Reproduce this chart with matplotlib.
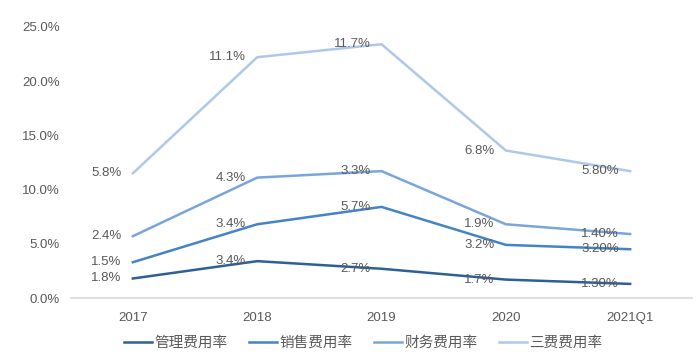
import matplotlib.pyplot as plt
import numpy as np

plt.rcParams['font.family'] = ['Liberation Sans', 'Noto Sans CJK SC', 'DejaVu Sans']

# categories and values (stacked line, labels show each series' own rate)
years = ['2017', '2018', '2019', '2020', '2021Q1']
names = ['管理费用率', '销售费用率', '财务费用率', '三费费用率']
guanli = [1.8, 3.4, 2.7, 1.7, 1.3]
xiaoshou = [1.5, 3.4, 5.7, 3.2, 3.2]
caiwu = [2.4, 4.3, 3.3, 1.9, 1.4]
sanfei = [5.8, 11.1, 11.7, 6.8, 5.8]
label_text = [
    ['1.8%', '3.4%', '2.7%', '1.7%', '1.30%'],
    ['1.5%', '3.4%', '5.7%', '3.2%', '3.20%'],
    ['2.4%', '4.3%', '3.3%', '1.9%', '1.40%'],
    ['5.8%', '11.1%', '11.7%', '6.8%', '5.80%'],
]
colors = ['#2F5F97', '#4483C4', '#79A5DB', '#AFC8E9']

fig = plt.figure(figsize=(7, 3.63), dpi=100)
ax = fig.add_axes([0.101, 0.179, 0.888, 0.747])

x = np.arange(len(years))
stack = np.cumsum(np.array([guanli, xiaoshou, caiwu, sanfei]), axis=0)
txt = '#595959'

for i in range(4):
    ax.plot(x, stack[i], color=colors[i], lw=1.8, label=names[i])
    for j in range(len(years)):
        ax.annotate(label_text[i][j], (x[j], stack[i][j]), xytext=(-8, 0),
                    textcoords='offset points', ha='right', va='center',
                    fontsize=9.5, color=txt)

ax.set_xlim(-0.5, len(years) - 0.5)
ax.set_ylim(0, 25)
ax.set_yticks(np.arange(0, 26, 5))
ax.set_yticklabels([f'{v:.1f}%' for v in np.arange(0, 26, 5)])
ax.set_xticks(x)
ax.set_xticklabels(years)
ax.tick_params(axis='both', length=0, labelsize=9.5, labelcolor=txt)
ax.tick_params(axis='x', pad=10)
ax.tick_params(axis='y', pad=8)
for s in ['top', 'right', 'left']:
    ax.spines[s].set_visible(False)
ax.spines['bottom'].set_color('#D9D9D9')
ax.spines['bottom'].set_linewidth(1.2)

leg = fig.legend(loc='center', bbox_to_anchor=(0.519, 0.055), ncol=4, frameon=False,
                 fontsize=10.5, handlelength=1.9, handletextpad=0.15, columnspacing=1.5)
for t in leg.get_texts():
    t.set_color(txt)
    t.set_family(['Noto Sans CJK SC', 'DejaVu Sans'])

fig.savefig('out.png', dpi=100)
